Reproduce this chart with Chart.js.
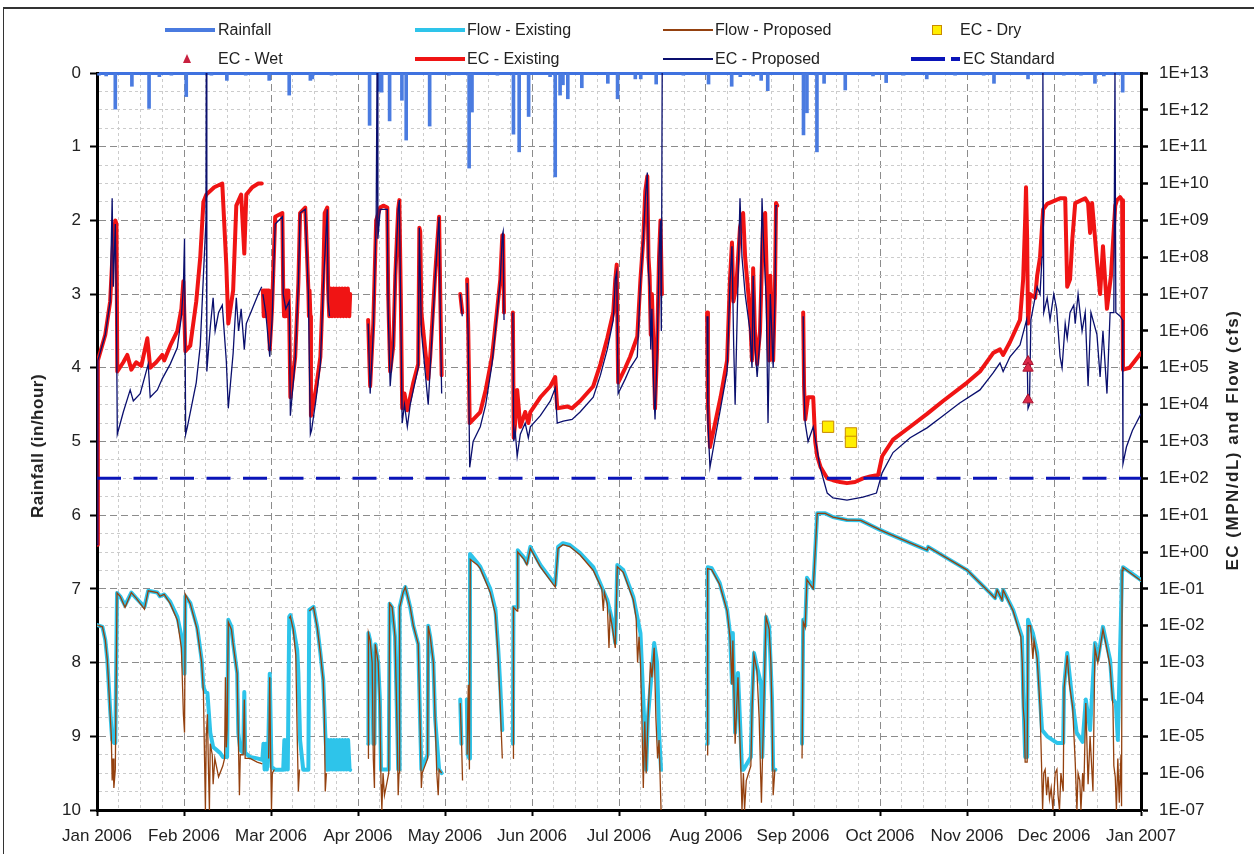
<!DOCTYPE html>
<html lang="en">
<head>
<meta charset="utf-8">
<title>Rainfall, EC and Flow - 2006</title>
<script src="https://cdn.jsdelivr.net/npm/chart.js@4.4.1/dist/chart.umd.min.js"></script>
<style>
  html, body { margin: 0; padding: 0; background: #fff; overflow: hidden; }
  #wrap { position: relative; width: 1254px; height: 854px; overflow: hidden; font-family: "Liberation Sans", Arial, sans-serif; color: #222; }
  #graph { position: absolute; left: 0; top: 0; }
  #frame { position: absolute; left: 3px; top: 7px; width: 1270px; height: 870px; border-left: 1.5px solid #333; border-top: 2px solid #333; pointer-events: none; }
  .lg-text { position: absolute; font-size: 16px; line-height: 18px; white-space: nowrap; transform: translateY(-50%); }
  .lg-sw { position: absolute; }
  .axis-title { position: absolute; font-weight: bold; font-size: 17px; white-space: nowrap; transform: translate(-50%, -50%) rotate(-90deg); }
</style>
</head>
<body>
<div id="wrap">
  <canvas id="graph" width="1254" height="854"></canvas>
  <div id="legend"></div>
  <div class="axis-title" style="left:38px; top:446px; letter-spacing:0.5px">Rainfall (in/hour)</div>
  <div class="axis-title" style="left:1233px; top:440px; letter-spacing:1.5px">EC (MPN/dL) and Flow (cfs)</div>
  <div id="frame"></div>
</div>
<script>
// x values are days since 1 Jan 2006, EC / flow values are log10 of the value
const monthLabels = ['Jan 2006', 'Feb 2006', 'Mar 2006', 'Apr 2006', 'May 2006', 'Jun 2006', 'Jul 2006',
  'Aug 2006', 'Sep 2006', 'Oct 2006', 'Nov 2006', 'Dec 2006', 'Jan 2007']
const rainTickValues = [0, 1, 2, 3, 4, 5, 6, 7, 8, 9, 10]
const ecTickExps = [-7, -6, -5, -4, -3, -2, -1, 0, 1, 2, 3, 4, 5, 6, 7, 8, 9, 10, 11, 12, 13]

// rainfall (in/hour)
const rainfall = [
  [0.7, 0.03], [3.2, 0.04], [6.4, 0.49], [12.2, 0.18], [18.2, 0.48], [21.8, 0.05], [26.0, 0.03], [31.2, 0.32],
  [40.0, 0.03], [45.4, 0.10], [52.0, 0.03], [60.2, 0.10], [67.2, 0.30], [74.6, 0.10], [75.3, 0.08], [82.0, 0.03],
  [95.3, 0.71], [98.7, 0.25], [99.5, 0.26], [102.3, 0.65], [106.6, 0.37], [108.1, 0.91], [116.3, 0.72], [123.0, 0.03],
  [130.1, 1.29], [131.1, 0.53], [140.0, 0.03], [145.6, 0.83], [147.6, 1.07], [150.9, 0.59], [158.4, 0.05], [160.2, 1.41],
  [161.9, 0.30], [162.9, 0.16], [164.6, 0.35], [169.5, 0.20], [178.6, 0.14], [182.0, 0.35], [188.2, 0.08], [190.1, 0.08],
  [195.5, 0.15], [205.0, 0.03], [213.8, 0.15], [221.9, 0.18], [224.9, 0.05], [229.4, 0.04], [232.2, 0.10], [234.5, 0.24],
  [247.0, 0.84], [248.2, 0.54], [251.7, 1.07], [254.2, 0.14], [261.6, 0.23], [271.3, 0.04], [275.9, 0.13], [282.0, 0.03],
  [290.1, 0.08], [300.0, 0.03], [310.0, 0.03], [313.6, 0.14], [325.5, 0.08], [338.0, 0.03], [344.0, 0.03], [348.9, 0.14],
  [352.0, 0.04], [358.6, 0.26]
]

// Flow - Existing, log10(cfs)
const flowExisting = [
  [0.1, -1.98], [1.9, -2.03], [2.9, -2.39], [3.6, -2.93], [4.0, -3.47], [4.6, -4.29], [5.3, -5.1], [6.0, -5.18], [6.4, -5.18],
  [7.0, -1.11], [8.1, -1.2], [9.8, -1.45], [12.0, -1.1], [13.7, -1.25], [16.6, -1.49], [17.9, -1.05], [21.1, -1.1], [22.0, -1.2],
  [23.5, -1.15], [25.6, -1.35], [28.1, -1.76], [29.8, -2.39], [30.2, -3.0], [30.6, -3.3], [30.9, -1.2], [32.6, -1.38], [35.0, -2.03],
  [36.6, -2.93], [37.2, -3.66], [37.9, -3.8], [38.6, -3.82], [39.6, -4.9], [40.6, -5.29], [43.0, -5.45], [44.0, -5.56], [45.5, -5.56],
  [45.9, -1.84], [47.0, -2.03], [47.6, -2.47], [49.0, -3.28], [49.4, -4.91], [50.1, -5.37], [51.1, -5.45], [51.5, -3.8], [51.8, -5.45],
  [53.5, -5.56], [56.0, -5.6], [57.8, -5.64], [58.2, -5.2], [58.6, -5.9], [59.0, -5.2], [59.4, -5.9], [59.9, -5.2], [60.4, -3.3],
  [61.0, -5.83], [62.3, -5.91], [65.1, -5.91], [65.5, -5.1], [65.9, -5.9], [66.3, -5.1], [66.7, -5.9], [67.2, -1.76], [67.6, -1.71],
  [68.6, -2.03], [70.0, -2.66], [70.4, -3.28], [71.0, -5.1], [72.1, -5.91], [73.9, -5.91], [74.2, -1.57], [75.7, -1.49], [77.0, -2.03],
  [78.1, -2.74], [79.1, -3.47], [79.8, -4.91], [80.5, -5.91], [80.8, -5.1], [81.3, -5.9], [81.8, -5.1], [82.3, -5.9], [82.8, -5.1],
  [83.3, -5.9], [83.8, -5.1], [84.3, -5.9], [84.8, -5.1], [85.3, -5.9], [85.8, -5.1], [86.3, -5.9], [86.8, -5.1], [87.3, -5.9],
  [87.8, -5.1], [88.3, -5.9], [88.5, -5.91], [88.6, null],
  [94.8, -5.2], [94.9, -2.2], [95.5, -2.4], [96.2, -3.0], [96.6, -5.2], [97.0, -5.2], [97.3, -2.5], [98.3, -3.0], [98.9, -4.0],
  [99.3, -5.9], [102.0, -5.9], [102.3, -1.4], [103.2, -1.5], [104.2, -2.3], [104.9, -4.5], [105.3, -5.9], [105.6, -5.9], [105.8, -1.5],
  [107.0, -1.1], [107.8, -0.95], [109.5, -1.5], [110.6, -2.0], [112.3, -2.5], [113.0, -4.7], [113.4, -5.9], [115.6, -5.5], [115.8, -2.0],
  [116.5, -2.3], [117.6, -3.0], [118.2, -4.5], [119.6, -5.9], [120.5, -6.0], [120.6, null],
  [127.0, -4.0], [127.4, -5.2], [127.5, null], [129.3, -4.0], [129.6, -5.5], [130.2, -5.6], [130.4, -0.05], [133.0, -0.3], [134.0, -0.4],
  [137.5, -1.0], [139.3, -1.57], [140.3, -2.66], [141.0, -3.66], [141.7, -4.83], [141.8, null],
  [145.4, -5.2], [145.6, -1.5], [146.9, -1.5], [147.1, 0.05], [149.3, -0.15], [150.3, -0.3], [151.5, 0.14], [155.0, -0.35], [160.2, -0.89],
  [161.2, 0.14], [162.9, 0.24], [165.3, 0.19], [168.9, -0.03], [173.5, -0.41], [178.4, -1.3], [180.1, -1.84], [181.2, -2.47], [181.9, -0.35],
  [184.0, -0.49], [187.5, -1.22], [190.0, -2.2], [191.0, -4.0], [192.0, -5.91], [192.6, -4.5], [194.8, -2.47], [195.8, -3.0], [196.5, -4.9],
  [197.2, -5.91], [197.3, null],
  [213.3, -5.2], [213.5, -0.41], [214.9, -0.44], [217.7, -0.84], [220.3, -1.57], [221.3, -2.2], [222.0, -3.55], [222.3, -2.2], [223.1, -4.9],
  [224.1, -3.28], [225.5, -5.91], [226.0, -5.91], [228.6, -5.56], [229.0, -4.1], [229.7, -2.74], [230.7, -3.1], [232.2, -3.6], [232.6, -5.56],
  [233.9, -1.76], [235.0, -2.03], [236.0, -4.0], [236.4, -5.91], [237.2, -5.91], [237.3, null],
  [246.5, -5.2], [246.9, -1.84], [247.6, -2.0], [248.2, -0.7], [250.4, -0.98], [251.8, 1.05], [254.6, 1.05], [257.3, 0.95], [262.2, 0.87],
  [267.0, 0.86], [273.8, 0.6], [275.5, 0.54], [290.2, 0.05], [290.6, 0.14], [304.2, -0.49], [312.2, -1.11], [314.0, -1.25], [314.7, -1.03],
  [316.4, -1.3], [316.8, -1.03], [320.3, -1.57], [323.4, -2.3], [323.8, -3.82], [324.5, -5.56], [325.2, -5.56], [325.5, -1.84], [327.2, -2.2],
  [328.7, -2.74], [329.7, -4.0], [330.4, -4.83], [332.2, -5.0], [335.6, -5.18], [337.8, -5.18], [338.1, -3.66], [339.2, -2.74], [341.1, -4.1],
  [342.5, -4.9], [344.6, -5.15], [345.7, -4.0], [347.2, -4.83], [348.9, -2.47], [349.9, -2.93], [351.7, -2.03], [354.2, -2.93], [355.2, -4.0],
  [356.2, -4.1], [356.9, -5.1], [358.4, -0.49], [358.7, -0.41], [365.0, -0.76]
]

// Flow - Proposed, log10(cfs)
const flowProposed = [
  [0.1, -1.98], [1.9, -2.03], [2.9, -2.39], [3.6, -2.93], [4.0, -3.47], [4.6, -4.4], [5.0, -5.0], [5.3, -6.2], [5.6, -5.6], [5.9, -6.4],
  [6.4, -5.9], [7.0, -1.11], [8.1, -1.2], [9.8, -1.5], [12.0, -1.1], [13.7, -1.25], [16.6, -1.55], [17.9, -1.05], [21.1, -1.1], [22.0, -1.2],
  [23.5, -1.15], [25.6, -1.4], [28.1, -1.85], [29.5, -2.6], [30.2, -4.4], [30.6, -4.9], [30.9, -1.15], [32.6, -1.4], [35.0, -2.1], [36.6, -3.0],
  [37.2, -3.8], [37.6, -5.6], [37.9, -7.0], [38.2, -5.0], [38.6, -4.4], [39.0, -6.0], [39.3, -7.0], [39.6, -5.2], [40.3, -5.5], [40.6, -6.3],
  [41.2, -5.6], [42.5, -6.1], [44.0, -5.8], [44.6, -5.6], [44.9, -3.4], [45.2, -5.3], [45.5, -4.8], [45.9, -1.9], [47.0, -2.1], [47.6, -2.5],
  [49.0, -3.3], [49.4, -5.0], [49.8, -6.6], [50.1, -5.5], [51.1, -5.5], [51.5, -4.0], [51.8, -5.6], [53.5, -5.6], [56.0, -5.7], [57.8, -5.75],
  [58.3, null], [60.0, -5.6], [60.4, -3.4], [60.7, -5.5], [61.0, -7.0], [61.3, -6.0], [62.0, -5.9], [62.3, null],
  [67.2, -1.8], [67.6, -1.75], [68.6, -2.1], [69.5, -2.8], [70.0, -5.0], [70.4, -6.5], [70.8, -5.9], [71.2, null],
  [74.2, -1.6], [75.7, -1.5], [77.0, -2.05], [78.1, -2.75], [79.1, -3.5], [79.5, -4.5], [79.8, -6.5], [80.2, -6.0], [80.5, null],
  [94.8, -5.6], [94.9, -2.2], [95.5, -2.4], [96.2, -3.0], [96.6, -5.6], [97.0, -6.4], [97.3, -2.5], [98.3, -3.0], [98.9, -4.2], [99.3, -6.3],
  [99.6, -7.0], [100.0, -6.0], [100.5, -6.6], [101.5, -6.2], [102.0, -6.0], [102.3, -1.4], [103.2, -1.5], [104.2, -2.3], [104.9, -4.7],
  [105.3, -6.6], [105.6, -6.0], [105.8, -1.5], [107.0, -1.1], [107.8, -0.95], [109.5, -1.5], [110.6, -2.0], [112.3, -2.5], [113.0, -4.8],
  [113.4, -6.4], [113.7, -6.0], [115.6, -5.6], [115.8, -2.0], [116.5, -2.3], [117.6, -3.0], [118.2, -4.5], [118.8, -6.0], [119.3, -6.6],
  [119.6, -5.9], [120.5, -6.0], [120.6, null],
  [127.0, -4.1], [127.5, -5.3], [127.8, -6.2], [128.0, null], [129.4, -5.5], [129.8, -3.6], [130.2, -5.9], [130.5, -0.2], [133.0, -0.35],
  [134.0, -0.45], [137.5, -1.1], [139.3, -1.7], [140.3, -2.9], [141.0, -4.2], [141.7, -5.6], [142.0, null],
  [145.5, -5.6], [145.6, -1.5], [146.9, -1.6], [147.1, 0.0], [149.3, -0.2], [150.3, -0.35], [151.5, 0.1], [155.0, -0.4], [160.2, -0.95],
  [161.2, 0.1], [162.9, 0.2], [165.3, 0.15], [168.9, -0.08], [173.5, -0.5], [176.5, -1.0], [177.0, -1.6], [177.4, -1.1], [178.4, -1.4],
  [179.0, -2.6], [179.4, -1.7], [180.1, -2.0], [181.2, -2.6], [181.9, -0.4], [184.0, -0.55], [187.5, -1.3], [188.5, -1.8], [189.0, -3.0],
  [189.5, -2.3], [190.0, -3.0], [190.5, -4.5], [191.0, -6.4], [191.5, -4.6], [192.0, -6.0], [192.6, -4.6], [193.5, -3.0], [194.0, -3.4],
  [194.8, -2.6], [195.4, -4.5], [196.0, -5.6], [196.5, -5.1], [197.2, -7.0], [197.6, null],
  [213.3, -5.5], [213.5, -0.45], [214.9, -0.48], [217.7, -0.88], [220.3, -1.6], [221.3, -2.3], [222.0, -3.6], [222.3, -2.4], [223.1, -5.2],
  [224.1, -3.4], [225.0, -5.6], [225.5, -7.0], [226.0, -6.0], [226.4, -7.0], [227.0, -6.2], [228.6, -5.8], [229.0, -4.3], [229.7, -2.8],
  [230.7, -3.2], [231.5, -4.5], [232.0, -6.0], [232.3, -6.8], [232.6, -5.8], [233.9, -1.76], [235.0, -2.1], [235.6, -3.0], [236.0, -4.4],
  [236.4, -6.6], [237.0, -5.9], [237.5, null],
  [246.5, -5.6], [246.9, -1.9], [247.6, -2.05], [248.2, -0.75], [250.4, -1.0], [251.8, 1.05], [254.6, 1.05], [257.3, 0.95], [262.2, 0.87],
  [267.0, 0.86], [273.8, 0.6], [275.5, 0.54], [290.2, 0.05], [290.6, 0.14], [304.2, -0.49], [312.2, -1.11], [314.0, -1.25], [314.7, -1.03],
  [316.4, -1.3], [316.8, -1.03], [320.3, -1.6], [323.0, -2.3], [323.5, -3.0], [323.8, -4.2], [324.2, -4.6], [324.5, -5.7], [325.2, -5.7],
  [325.5, -2.0], [326.4, -2.0], [327.2, -2.9], [327.6, -2.4], [328.7, -2.9], [329.7, -4.2], [330.2, -5.7], [330.6, -7.0], [331.0, -6.0],
  [331.5, -5.9], [332.0, -6.6], [332.5, -6.1], [333.0, -6.7], [333.6, -6.4], [334.2, -7.0], [335.0, -6.0], [335.6, -5.9], [336.0, -6.6],
  [336.5, -7.0], [337.0, -6.0], [337.8, -6.5], [338.1, -3.7], [339.2, -2.8], [340.0, -3.6], [341.1, -4.2], [342.0, -5.7], [342.6, -7.0],
  [343.0, -6.0], [343.6, -6.2], [344.0, -7.0], [344.6, -6.0], [345.0, -6.5], [345.7, -4.1], [346.5, -6.3], [347.2, -5.0], [348.2, -6.5],
  [348.9, -2.6], [349.9, -3.0], [351.7, -2.1], [353.0, -2.6], [354.2, -3.1], [355.2, -4.2], [355.5, -5.8], [356.0, -6.1], [356.4, -7.0],
  [356.9, -5.6], [357.4, -6.8], [358.0, -5.5], [358.2, -6.9], [358.4, -0.5], [358.7, -0.42], [365.0, -0.78]
]

// EC - Existing, log10(MPN/dL)
const ecExisting = [
  [0.0, 0.2], [0.3, 5.2], [2.9, 5.9], [4.6, 6.8], [5.7, 8.5], [6.4, 9.0], [6.8, 8.9], [7.1, 4.9], [9.2, 5.15], [10.6, 5.35], [12.0, 4.95],
  [13.7, 5.15], [15.5, 5.05], [17.6, 5.8], [18.6, 5.0], [20.7, 5.15], [22.8, 5.35], [23.5, 5.2], [25.6, 5.6], [28.1, 6.0], [29.5, 6.6],
  [30.2, 7.35], [30.9, 5.45], [32.6, 5.6], [34.7, 6.8], [36.1, 8.0], [37.2, 9.5], [38.2, 9.7], [41.0, 9.9], [43.8, 10.0], [45.2, 7.8],
  [45.9, 6.2], [47.6, 7.1], [48.7, 9.4], [50.4, 9.7], [51.5, 8.1], [52.2, 9.7], [54.3, 9.9], [56.4, 10.0], [57.6, 10.0], [57.7, null],
  [58.0, 7.1], [58.3, 6.4], [58.6, 7.1], [58.9, 6.4], [59.2, 7.1], [59.5, 6.4], [59.8, 7.1], [60.1, 6.4], [60.4, 5.5], [61.2, 6.6],
  [62.3, 9.1], [64.8, 9.2], [65.1, 7.1], [65.4, 6.4], [65.7, 7.1], [66.0, 6.4], [66.3, 7.1], [66.6, 6.4], [66.9, 7.1], [67.2, 6.4],
  [67.6, 4.2], [69.3, 5.3], [70.4, 7.3], [71.0, 9.2], [72.8, 9.35], [73.9, 7.1], [74.1, 6.4], [74.3, 7.1], [74.6, 6.4], [74.8, 3.7],
  [76.5, 4.4], [78.1, 5.3], [79.1, 7.4], [79.6, 9.2], [80.5, 9.35], [80.8, 7.15], [81.2, 6.4], [81.7, 7.15], [82.2, 6.4], [82.7, 7.15],
  [83.2, 6.4], [83.7, 7.15], [84.2, 6.4], [84.7, 7.15], [85.2, 6.4], [85.7, 7.15], [86.2, 6.4], [86.7, 7.15], [87.2, 6.4], [87.7, 7.15],
  [88.2, 6.4], [88.5, 7.0], [88.6, null],
  [94.8, 6.3], [95.5, 4.5], [96.6, 6.2], [97.6, 9.0], [99.0, 9.35], [100.1, 9.4], [101.5, 9.35], [101.8, 7.0], [102.5, 4.9], [103.6, 5.6],
  [104.3, 7.5], [105.3, 9.3], [105.7, 9.55], [106.2, 7.0], [106.7, 3.9], [107.5, 4.3], [108.5, 3.85], [109.5, 4.2], [110.6, 4.6],
  [112.3, 5.1], [112.7, 8.8], [113.0, 8.7], [113.4, 6.5], [115.8, 4.7], [116.5, 5.3], [118.2, 7.5], [119.6, 9.1], [120.0, 7.0],
  [120.5, 4.8], [120.6, null],
  [127.0, 7.0], [127.7, 6.5], [127.8, null], [129.4, 7.4], [129.8, 6.0], [130.3, 3.5], [134.0, 3.8], [135.9, 4.4], [138.1, 5.3],
  [139.8, 6.5], [141.0, 7.4], [141.7, 8.6], [142.0, 8.6], [142.3, 6.5], [142.4, null],
  [145.4, 6.5], [145.7, 3.1], [146.2, 3.5], [146.9, 4.4], [148.0, 3.4], [149.7, 3.8], [150.8, 3.5], [151.5, 3.8], [155.0, 4.2],
  [158.5, 4.5], [160.2, 4.75], [160.9, 3.9], [164.4, 3.95], [166.1, 3.9], [168.9, 4.1], [173.5, 4.5], [176.0, 5.1], [178.4, 5.8],
  [180.5, 6.5], [181.2, 7.4], [181.7, 7.8], [182.2, 4.6], [184.7, 5.0], [186.4, 5.3], [188.9, 5.85], [190.0, 7.4], [191.0, 8.5],
  [191.7, 9.8], [192.4, 10.2], [192.8, 8.0], [193.2, 7.5], [193.6, 5.9], [194.0, 7.0], [194.6, 5.5], [195.1, 3.9], [195.8, 5.5],
  [196.5, 8.0], [197.0, 9.0], [197.5, 7.0], [197.6, null],
  [213.3, 6.5], [213.6, 4.0], [214.3, 2.85], [216.1, 3.5], [218.0, 4.2], [220.3, 5.2], [221.3, 7.4], [222.0, 8.4], [222.5, 6.8],
  [223.5, 7.2], [224.8, 8.8], [225.9, 9.2], [226.6, 8.0], [228.3, 6.5], [229.0, 5.2], [229.4, 7.7], [230.0, 6.0], [230.8, 5.1],
  [231.8, 6.0], [232.9, 9.0], [233.6, 9.2], [234.3, 7.0], [235.0, 5.2], [235.4, 7.5], [236.4, 5.2], [237.0, 7.0], [237.4, 9.47],
  [237.8, 9.4], [237.9, null],
  [246.9, 6.5], [247.2, 4.5], [247.6, 3.6], [248.6, 4.2], [250.4, 4.2], [251.1, 3.0], [251.8, 2.6], [253.0, 2.3], [255.3, 2.0],
  [257.3, 1.95], [259.8, 1.9], [262.2, 1.87], [265.0, 1.9], [267.8, 2.0], [270.3, 2.05], [273.1, 2.09], [274.5, 2.6], [278.3, 3.05],
  [284.3, 3.4], [290.2, 3.75], [295.8, 4.1], [304.2, 4.6], [308.7, 4.9], [313.3, 5.4], [315.7, 5.5], [316.8, 5.35], [319.2, 5.7],
  [322.7, 6.3], [323.8, 7.4], [324.5, 9.0], [324.8, 9.9], [325.2, 8.5], [325.5, 6.2], [326.2, 7.0], [328.0, 6.9], [328.7, 7.5],
  [329.7, 8.0], [330.8, 9.3], [332.2, 9.45], [336.7, 9.6], [338.5, 9.6], [339.2, 7.2], [340.2, 7.4], [341.0, 8.5], [342.0, 9.47],
  [345.5, 9.6], [346.5, 9.47], [347.2, 8.66], [347.9, 9.47], [349.6, 7.9], [350.7, 7.0], [351.7, 8.3], [353.1, 6.6], [354.5, 7.5],
  [356.0, 9.4], [356.6, 9.55], [357.7, 9.63], [358.4, 9.55], [358.7, 4.95], [361.0, 5.0], [365.0, 5.4]
]

// EC - Proposed, log10(MPN/dL)
const ecProposed = [
  [0.0, 0.2], [0.3, 5.2], [2.9, 5.9], [4.6, 6.8], [5.3, 9.6], [5.7, 7.2], [6.4, 8.9], [6.8, 6.5], [7.1, 3.2], [9.2, 3.8], [11.6, 4.4],
  [12.7, 4.1], [15.1, 4.3], [17.9, 5.1], [18.6, 4.2], [21.1, 4.4], [22.8, 4.7], [25.6, 5.1], [28.1, 5.55], [29.5, 6.4], [30.2, 7.2],
  [30.6, 8.5], [31.0, 3.2], [31.6, 3.4], [34.7, 4.6], [36.1, 5.6], [37.2, 7.5], [38.1, 9.0], [38.2, 13.0], [38.4, 4.9], [39.6, 6.1],
  [40.6, 6.9], [41.3, 6.0], [42.5, 6.5], [43.8, 6.7], [45.2, 5.2], [45.9, 3.9], [47.6, 5.4], [48.7, 6.9], [49.5, 6.0], [50.4, 6.6],
  [51.5, 5.5], [52.2, 6.2], [54.3, 6.6], [56.4, 7.0], [57.6, 7.2], [57.7, null],
  [58.0, 7.0], [59.0, 6.5], [60.4, 5.3], [61.2, 6.3], [62.3, 8.9], [64.8, 9.1], [65.1, 7.0], [66.0, 6.6], [67.2, 6.8], [67.6, 3.7],
  [69.3, 5.2], [70.4, 7.3], [71.0, 9.2], [72.8, 9.3], [73.9, 7.0], [74.6, 3.2], [75.0, 3.3], [76.5, 4.1], [78.1, 5.1], [79.1, 7.2],
  [80.5, 9.3], [80.8, 6.8], [81.3, 6.4], [81.4, null],
  [94.8, 6.2], [95.5, 4.3], [96.6, 6.0], [97.6, 9.0], [97.9, 13.0], [98.2, 8.5], [99.0, 9.3], [101.5, 9.3], [101.8, 6.5], [102.5, 4.5],
  [103.6, 5.6], [104.3, 7.5], [105.3, 9.3], [105.7, 9.55], [106.2, 6.5], [106.7, 3.5], [107.5, 4.0], [108.5, 3.4], [109.5, 4.0],
  [110.6, 4.4], [112.3, 5.0], [112.7, 8.8], [113.4, 6.0], [115.8, 4.0], [116.5, 5.0], [118.2, 7.4], [119.6, 9.1], [120.0, 6.5],
  [120.5, 4.3], [120.6, null],
  [127.0, 7.0], [127.7, 6.4], [127.8, null], [129.4, 7.3], [129.8, 5.7], [130.3, 2.3], [131.5, 3.0], [134.0, 3.4], [135.9, 4.0],
  [138.1, 5.1], [139.8, 6.4], [141.0, 7.4], [141.7, 8.6], [142.0, 8.7], [142.3, 6.3], [142.4, null],
  [145.4, 6.5], [145.7, 3.0], [146.2, 3.3], [146.9, 2.6], [148.0, 3.2], [149.7, 3.5], [150.8, 3.1], [151.5, 3.4], [155.0, 3.7],
  [158.5, 4.1], [160.2, 4.45], [160.9, 3.5], [163.0, 3.55], [166.1, 3.6], [168.9, 3.8], [173.5, 4.2], [176.0, 4.8], [178.4, 5.5],
  [180.5, 6.3], [181.2, 7.4], [181.7, 7.6], [182.2, 4.3], [184.7, 4.7], [186.4, 5.0], [188.9, 5.3], [190.0, 7.3], [191.0, 8.5],
  [191.7, 9.6], [192.4, 10.3], [192.8, 7.6], [193.2, 7.2], [193.6, 5.5], [194.0, 6.6], [194.6, 4.5], [195.1, 3.6], [195.8, 5.3],
  [196.5, 8.0], [197.0, 9.0], [197.3, 6.0], [197.6, 13.0], [197.7, null],
  [213.3, 6.4], [213.6, 3.5], [214.3, 2.3], [216.1, 3.1], [218.0, 3.9], [220.3, 4.9], [221.3, 7.3], [222.0, 8.3], [222.6, 5.6],
  [223.1, 4.0], [224.0, 7.0], [224.8, 9.6], [225.5, 8.0], [226.6, 7.0], [228.3, 6.0], [229.0, 5.0], [229.4, 7.5], [230.0, 5.6],
  [230.8, 4.75], [231.8, 5.8], [232.5, 9.6], [233.0, 8.5], [234.0, 6.8], [234.6, 3.5], [235.4, 7.0], [236.4, 5.0], [237.0, 6.8],
  [237.4, 9.4], [237.8, 9.4], [237.9, null],
  [246.9, 6.4], [247.2, 4.3], [247.6, 3.5], [248.6, 3.0], [250.4, 3.4], [252.8, 2.3], [255.3, 1.6], [257.3, 1.47], [262.2, 1.41],
  [267.8, 1.49], [272.5, 1.6], [273.8, 1.96], [274.5, 2.15], [278.3, 2.7], [284.3, 3.1], [290.2, 3.37], [295.8, 3.7], [301.5, 4.04],
  [308.7, 4.4], [313.3, 4.86], [315.7, 5.13], [316.8, 4.9], [319.2, 5.3], [322.7, 5.62], [325.0, 6.3], [325.5, 3.9], [326.0, 4.0],
  [326.5, 6.3], [328.7, 7.2], [329.7, 7.0], [330.4, 8.0], [330.7, 13.0], [331.0, 6.5], [332.2, 6.9], [333.2, 6.3], [334.5, 7.0],
  [335.5, 6.6], [336.7, 5.3], [337.4, 5.0], [338.5, 6.2], [339.2, 5.8], [340.2, 6.5], [341.5, 6.7], [342.0, 6.2], [343.0, 7.0],
  [344.4, 6.0], [345.5, 6.5], [346.5, 4.5], [347.5, 6.5], [349.6, 5.9], [350.7, 4.75], [351.7, 6.0], [353.1, 4.3], [354.2, 6.5],
  [355.5, 6.5], [355.9, 13.0], [356.2, 6.5], [357.7, 6.4], [358.5, 6.3], [358.7, 2.4], [359.9, 2.85], [362.0, 3.3], [365.0, 3.75]
]

// grab samples, log10(MPN/dL)
const ecDry = [[255.6, 3.40], [263.6, 3.22], [263.6, 2.99]]
const ecWet = [[325.5, 5.17], [325.5, 4.99], [325.5, 4.13]]
const ecStandard = [[0, 2], [365, 2]]

const dayMax = 365
const toXY = pairs => pairs.map(p => ({ x: p[0], y: p[1] === null ? null : Math.pow(10, p[1]) }))
const toBars = pairs => pairs.map(p => ({ x: p[0], y: p[1] }))

const majorGrid = '#8c8c8c'
const minorGrid = '#cccccc'

function dashFor (ctx, every) {
  return ctx.index % every === 0 ? [7, 4] : [3, 3]
}

function expLabel (v) {
  const e = Math.round(Math.log10(v))
  return '1E' + (e < 0 ? '-' : '+') + String(Math.abs(e)).padStart(2, '0')
}

Chart.defaults.font.family = '"Liberation Sans", Arial, sans-serif'
Chart.defaults.font.size = 17
Chart.defaults.color = '#222'

const chart = new Chart('graph', {
  type: 'line',
  data: {
    datasets: [
      {
        label: 'EC - Dry',
        data: toXY(ecDry),
        yAxisID: 'y2',
        showLine: false,
        pointStyle: 'rect',
        pointRadius: 8,
        backgroundColor: '#ffee00',
        borderColor: '#c98a00',
        borderWidth: 1,
        order: 0
      },
      {
        label: 'EC - Wet',
        data: toXY(ecWet),
        yAxisID: 'y2',
        showLine: false,
        pointStyle: 'triangle',
        pointRadius: 6,
        backgroundColor: '#dd2a4a',
        borderColor: '#a8122e',
        borderWidth: 1,
        order: 0
      },
      {
        label: 'EC Standard',
        data: toXY(ecStandard),
        yAxisID: 'y2',
        borderColor: '#0a14b8',
        borderWidth: 3,
        borderDash: [24, 12.5],
        pointRadius: 0,
        order: 1
      },
      {
        label: 'EC - Proposed',
        data: toXY(ecProposed),
        yAxisID: 'y2',
        borderColor: '#0a0f6e',
        borderWidth: 1.3,
        pointRadius: 0,
        order: 2
      },
      {
        label: 'EC - Existing',
        data: toXY(ecExisting),
        yAxisID: 'y2',
        borderColor: '#f01414',
        borderWidth: 4,
        borderJoinStyle: 'round',
        borderCapStyle: 'round',
        pointRadius: 0,
        order: 3
      },
      {
        label: 'Flow - Proposed',
        data: toXY(flowProposed),
        yAxisID: 'y2',
        borderColor: '#94410f',
        borderWidth: 1.3,
        pointRadius: 0,
        order: 4
      },
      {
        label: 'Flow - Existing',
        data: toXY(flowExisting),
        yAxisID: 'y2',
        borderColor: '#2ec4ea',
        borderWidth: 4,
        borderJoinStyle: 'round',
        borderCapStyle: 'round',
        pointRadius: 0,
        order: 5
      },
      {
        type: 'bar',
        label: 'Rainfall',
        data: toBars(rainfall),
        yAxisID: 'y',
        backgroundColor: '#4a7be0',
        barThickness: 3,
        order: 6
      }
    ]
  },
  options: {
    responsive: false,
    animation: false,
    devicePixelRatio: 1,
    layout: { padding: { top: 73, left: 0, right: 0, bottom: 0 } },
    plugins: {
      legend: { display: false },
      tooltip: { enabled: false }
    },
    scales: {
      x: {
        type: 'linear',
        position: 'bottom',
        min: 0,
        max: dayMax,
        offset: false,
        afterBuildTicks: scale => {
          const ticks = []
          for (let i = 0; i <= (monthLabels.length - 1) * 4; i++) ticks.push({ value: i * dayMax / ((monthLabels.length - 1) * 4) })
          scale.ticks = ticks
        },
        afterFit: scale => { scale.height = 44 },
        ticks: {
          autoSkip: false,
          maxRotation: 0,
          padding: 10,
          callback: (v, i) => (i % 4 === 0 ? monthLabels[i / 4] : '')
        },
        grid: {
          offset: false,
          color: ctx => (ctx.index % 4 === 0 ? majorGrid : minorGrid),
          lineWidth: 1,
          tickLength: 6,
          tickWidth: 2,
          tickColor: ctx => (ctx.index % 4 === 0 ? '#000' : 'rgba(0,0,0,0)')
        },
        border: { display: true, color: '#000', width: 3, dash: ctx => dashFor(ctx, 4) }
      },
      xTop: {
        type: 'linear',
        position: 'top',
        min: 0,
        max: dayMax,
        afterFit: scale => { scale.height = 0 },
        ticks: { display: false },
        grid: { display: false, drawTicks: false },
        border: { display: true, color: '#3f72e0', width: 3 }
      },
      y: {
        type: 'linear',
        position: 'left',
        reverse: true,
        min: rainTickValues[0],
        max: rainTickValues[rainTickValues.length - 1],
        afterBuildTicks: scale => {
          const ticks = []
          const last = rainTickValues[rainTickValues.length - 1]
          for (let i = 0; i <= last * 4; i++) ticks.push({ value: i / 4 })
          scale.ticks = ticks
        },
        afterFit: scale => { scale.width = 97 },
        ticks: {
          autoSkip: false,
          padding: 9,
          callback: v => (rainTickValues.includes(v) ? String(v) : '')
        },
        grid: {
          color: ctx => (ctx.index % 4 === 0 ? majorGrid : minorGrid),
          lineWidth: 1,
          tickLength: 7,
          tickWidth: 2,
          tickColor: ctx => (ctx.index % 4 === 0 ? '#000' : 'rgba(0,0,0,0)')
        },
        border: { display: true, color: '#000', width: 3, dash: ctx => dashFor(ctx, 4) }
      },
      y2: {
        type: 'logarithmic',
        position: 'right',
        min: Math.pow(10, ecTickExps[0]),
        max: Math.pow(10, ecTickExps[ecTickExps.length - 1]),
        afterBuildTicks: scale => {
          scale.ticks = ecTickExps.map(e => ({ value: Math.pow(10, e) }))
        },
        afterFit: scale => { scale.width = 113 },
        ticks: {
          autoSkip: false,
          padding: 11,
          callback: v => expLabel(v)
        },
        grid: {
          drawOnChartArea: false,
          tickLength: 7,
          tickWidth: 2.5,
          tickColor: '#000'
        },
        border: { display: true, color: '#000', width: 3 }
      }
    }
  }
})

// legend drawn as html so it can sit in the fixed 4 x 2 grid of the original
const legendItems = [
  { label: 'Rainfall', kind: 'line', color: '#4a7be0', h: 4, sx: 165, tx: 218, row: 30 },
  { label: 'Flow - Existing', kind: 'line', color: '#2ec4ea', h: 4, sx: 415, tx: 467, row: 30 },
  { label: 'Flow - Proposed', kind: 'line', color: '#94410f', h: 1.5, sx: 663, tx: 715, row: 30 },
  { label: 'EC - Dry', kind: 'square', color: '#ffee00', edge: '#c98a00', sx: 932, tx: 960, row: 30 },
  { label: 'EC - Wet', kind: 'triangle', color: '#c8203f', sx: 183, tx: 218, row: 59 },
  { label: 'EC - Existing', kind: 'line', color: '#f01414', h: 4, sx: 415, tx: 467, row: 59 },
  { label: 'EC - Proposed', kind: 'line', color: '#0a0f6e', h: 1.5, sx: 663, tx: 715, row: 59 },
  { label: 'EC Standard', kind: 'dash', color: '#0a14b8', h: 4, sx: 911, tx: 963, row: 59 }
]

const legend = document.getElementById('legend')
legendItems.forEach(item => {
  const add = css => {
    const d = document.createElement('div')
    d.className = 'lg-sw'
    Object.assign(d.style, css)
    legend.appendChild(d)
  }
  if (item.kind === 'line') {
    add({ left: item.sx + 'px', top: (item.row - item.h / 2) + 'px', width: '50px', height: item.h + 'px', background: item.color })
  } else if (item.kind === 'dash') {
    add({ left: item.sx + 'px', top: (item.row - item.h / 2) + 'px', width: '34px', height: item.h + 'px', background: item.color })
    add({ left: (item.sx + 40) + 'px', top: (item.row - item.h / 2) + 'px', width: '9px', height: item.h + 'px', background: item.color })
  } else if (item.kind === 'square') {
    add({ left: item.sx + 'px', top: (item.row - 5) + 'px', width: '8px', height: '8px', background: item.color, border: '1px solid ' + item.edge })
  } else if (item.kind === 'triangle') {
    add({ left: item.sx + 'px', top: (item.row - 5) + 'px', width: '0', height: '0', borderLeft: '4.5px solid transparent', borderRight: '4.5px solid transparent', borderBottom: '9px solid ' + item.color })
  }
  const t = document.createElement('div')
  t.className = 'lg-text'
  t.style.left = item.tx + 'px'
  t.style.top = item.row + 'px'
  t.textContent = item.label
  legend.appendChild(t)
})
</script>
</body>
</html>
